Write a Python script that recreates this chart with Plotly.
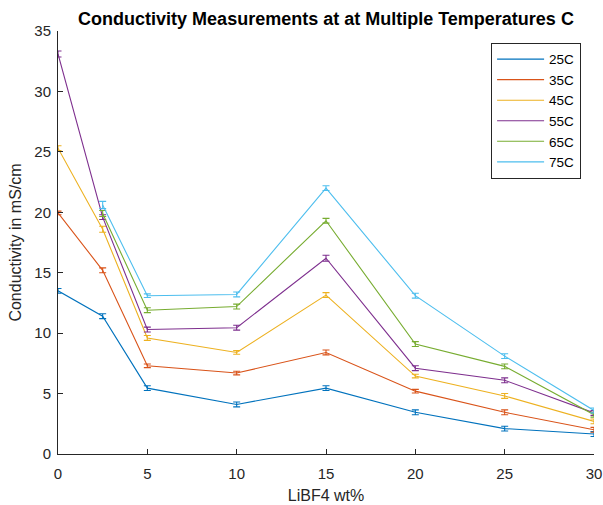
import plotly.graph_objects as go

x_wt = [0, 2.5, 5, 10, 15, 20, 25, 30]
series_names = ["25C", "35C", "45C", "55C", "65C", "75C"]
c25 = [13.5, 11.4, 5.45, 4.1, 5.45, 3.45, 2.1, 1.65]
c35 = [19.95, 15.2, 7.3, 6.7, 8.4, 5.2, 3.45, 2.0]
c45 = [25.3, 18.6, 9.6, 8.4, 13.15, 6.45, 4.8, 2.7]
c55 = [33.1, 19.6, 10.3, 10.45, 16.2, 7.1, 6.1, 3.4]
c65 = [None, 19.9, 11.9, 12.2, 19.3, 9.1, 7.25, 3.25]
c75 = [None, 20.6, 13.1, 13.2, 22.0, 13.1, 8.1, 3.6]
e25 = [0.2, 0.2, 0.2, 0.2, 0.2, 0.2, 0.2, 0.2]
e35 = [0.15, 0.2, 0.15, 0.15, 0.2, 0.15, 0.2, 0.2]
e45 = [0.2, 0.25, 0.2, 0.15, 0.2, 0.15, 0.2, 0.2]
e55 = [0.25, 0.2, 0.2, 0.2, 0.25, 0.2, 0.2, 0.2]
e65 = [0.2, 0.25, 0.2, 0.2, 0.2, 0.2, 0.2, 0.2]
e75 = [0.2, 0.3, 0.15, 0.2, 0.2, 0.2, 0.2, 0.2]
colors = ["#0072BD", "#D95319", "#EDB120", "#7E2F8E", "#77AC30", "#4DBEEE"]

values = [c25, c35, c45, c55, c65, c75]
errors = [e25, e35, e45, e55, e65, e75]

fig = go.Figure()
for name, ys, es, col in zip(series_names, values, errors, colors):
    xs = [x for x, y in zip(x_wt, ys) if y is not None]
    yv = [y for y in ys if y is not None]
    ev = [e for e, y in zip(es, ys) if y is not None]
    fig.add_trace(go.Scatter(
        x=xs, y=yv, mode="lines", name=name,
        line=dict(color=col, width=1.1),
        error_y=dict(type="data", array=ev, visible=True, color=col, thickness=1.1, width=3.5),
    ))

font_family = "Liberation Sans, Arial, Helvetica, sans-serif"
axis_col = "#262626"
fig.update_layout(
    width=603, height=505,
    margin=dict(l=58, r=9, t=31, b=51),
    paper_bgcolor="white", plot_bgcolor="white",
    font=dict(family=font_family, size=15, color=axis_col),
    title=dict(text="<b>Conductivity Measurements at at Multiple Temperatures C</b>",
               x=(58 + 594) / 2 / 603, xanchor="center", y=1 - 19 / 505, yanchor="middle",
               font=dict(size=18, color="black")),
    showlegend=True,
    legend=dict(x=0.808, y=0.972, xanchor="left", yanchor="top",
                bordercolor=axis_col, borderwidth=1, bgcolor="white",
                font=dict(size=13.5, color="black"), itemwidth=47),
)
fig.update_xaxes(range=[0, 30], tickvals=[0, 5, 10, 15, 20, 25, 30], automargin=False,
                 ticks="inside", ticklen=5, tickcolor=axis_col, ticklabelstandoff=6,
                 showline=True, linecolor=axis_col, linewidth=1, showgrid=False, zeroline=False,
                 title=dict(text="LiBF4 wt%", font=dict(size=16), standoff=8))
fig.update_yaxes(range=[0, 35], tickvals=[0, 5, 10, 15, 20, 25, 30, 35], automargin=False,
                 ticks="inside", ticklen=5, tickcolor=axis_col, ticklabelstandoff=3,
                 showline=True, linecolor=axis_col, linewidth=1, showgrid=False, zeroline=False,
                 title=dict(text="Conductivity in mS/cm", font=dict(size=16), standoff=8))
fig.write_html("out.html")
